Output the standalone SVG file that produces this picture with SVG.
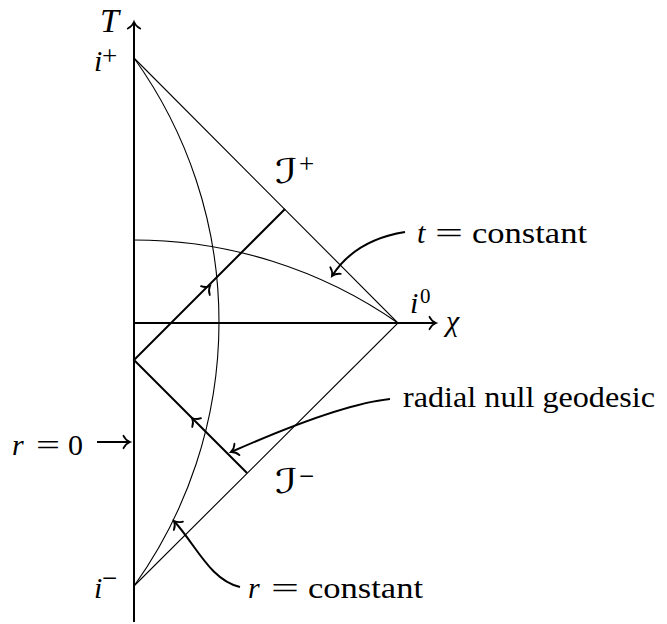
<svg xmlns="http://www.w3.org/2000/svg" width="667" height="624" viewBox="0 0 667 624">
<style>
.thin{fill:none;stroke:#000;stroke-width:1.1}
.thick{fill:none;stroke:#000;stroke-width:2}
.ann{fill:none;stroke:#000;stroke-width:2;marker-end:url(#to)}
.lbl{font-family:"Liberation Serif","Times New Roman",serif;font-size:30px;fill:#000}
.it{font-style:italic}
.sup{font-family:"Liberation Serif","Times New Roman",serif;font-size:21px;fill:#000}
.pm{font-family:"Liberation Serif","Times New Roman",serif;font-size:27px;fill:#000}
.cal{font-family:"DejaVu Sans","Noto Sans",sans-serif;font-size:34px;fill:#000}
</style>
<defs>
<marker id="to" markerWidth="16" markerHeight="16" refX="0" refY="0" orient="auto" markerUnits="userSpaceOnUse" overflow="visible">
<path d="M-6.5,-6.2 C-5,-3 -2,-0.8 0,0 C-2,0.8 -5,3 -6.5,6.2" fill="none" stroke="#000" stroke-width="1.8" stroke-linecap="round"/>
</marker>
<path id="mid" d="M-6.5,-6.2 C-5,-3 -2,-0.8 0,0 C-2,0.8 -5,3 -6.5,6.2" fill="none" stroke="#000" stroke-width="1.8" stroke-linecap="round"/>
</defs>

<g id="connectors">
<g id="axes">
<path class="thick" d="M134,622 V22" style="marker-end:url(#to)"/>
<path class="thick" d="M134,323 H436" style="marker-end:url(#to)"/>
</g>
<g id="boundary">
<path class="thin" d="M134,58 L398,323 L134,586"/>
</g>
<g id="r-constant-curve">
<path class="thin" d="M134,58 A452.5,452.5 0 0 1 134,586"/>
</g>
<g id="t-constant-curve">
<path class="thin" d="M134,240 A461.4,461.4 0 0 1 398,323"/>
</g>
<g id="null-geodesic">
<path class="thick" d="M247,473 L134,360 L285,209"/>
<use href="#mid" transform="translate(210,286) rotate(-45)"/>
<use href="#mid" transform="translate(192,418) rotate(-135)"/>
</g>
<g id="annotation-arrows">
<path class="ann" d="M405,232 Q355,240 332,276"/>
<path class="ann" d="M390,399 Q340,404 231,452"/>
<path class="ann" d="M97,442 H130"/>
<path class="ann" d="M240,587 C210,580 196,545 174,521"/>
</g>
</g>

<g id="label-T"><text class="lbl it" x="100" y="32" style="font-size:34px">T</text></g>
<g id="label-iplus"><text class="lbl it" x="94" y="71">i</text><text class="pm" x="102" y="65">+</text></g>
<g id="label-iminus"><text class="lbl it" x="94" y="598">i</text><text class="pm" x="102" y="587">−</text></g>
<g id="label-i0"><text class="lbl it" x="410" y="313">i</text><text class="sup" x="420" y="303">0</text></g>
<g id="label-chi"><text class="lbl it" x="446" y="331">χ</text></g>
<g id="label-scri-plus"><text class="cal" x="275" y="183" textLength="23" lengthAdjust="spacingAndGlyphs">ℐ</text><text class="pm" x="299" y="173">+</text></g>
<g id="label-scri-minus"><text class="cal" x="275" y="493" textLength="23" lengthAdjust="spacingAndGlyphs">ℐ</text><text class="pm" x="299" y="485">−</text></g>
<g id="label-t-constant">
<text class="lbl it" x="417" y="243">t</text>
<text class="lbl" x="435" y="243" textLength="28" lengthAdjust="spacingAndGlyphs">=</text>
<text class="lbl" x="472" y="243" textLength="115" lengthAdjust="spacingAndGlyphs">constant</text>
</g>
<g id="label-radial"><text class="lbl" x="403" y="407" textLength="252" lengthAdjust="spacingAndGlyphs">radial null geodesic</text></g>
<g id="label-r0">
<text class="lbl it" x="12" y="455">r</text>
<text class="lbl" x="36" y="455" textLength="24" lengthAdjust="spacingAndGlyphs">=</text>
<text class="lbl" x="68" y="455">0</text>
</g>
<g id="label-r-constant">
<text class="lbl it" x="248" y="598">r</text>
<text class="lbl" x="271" y="598" textLength="28" lengthAdjust="spacingAndGlyphs">=</text>
<text class="lbl" x="308" y="598" textLength="115" lengthAdjust="spacingAndGlyphs">constant</text>
</g>
</svg>
